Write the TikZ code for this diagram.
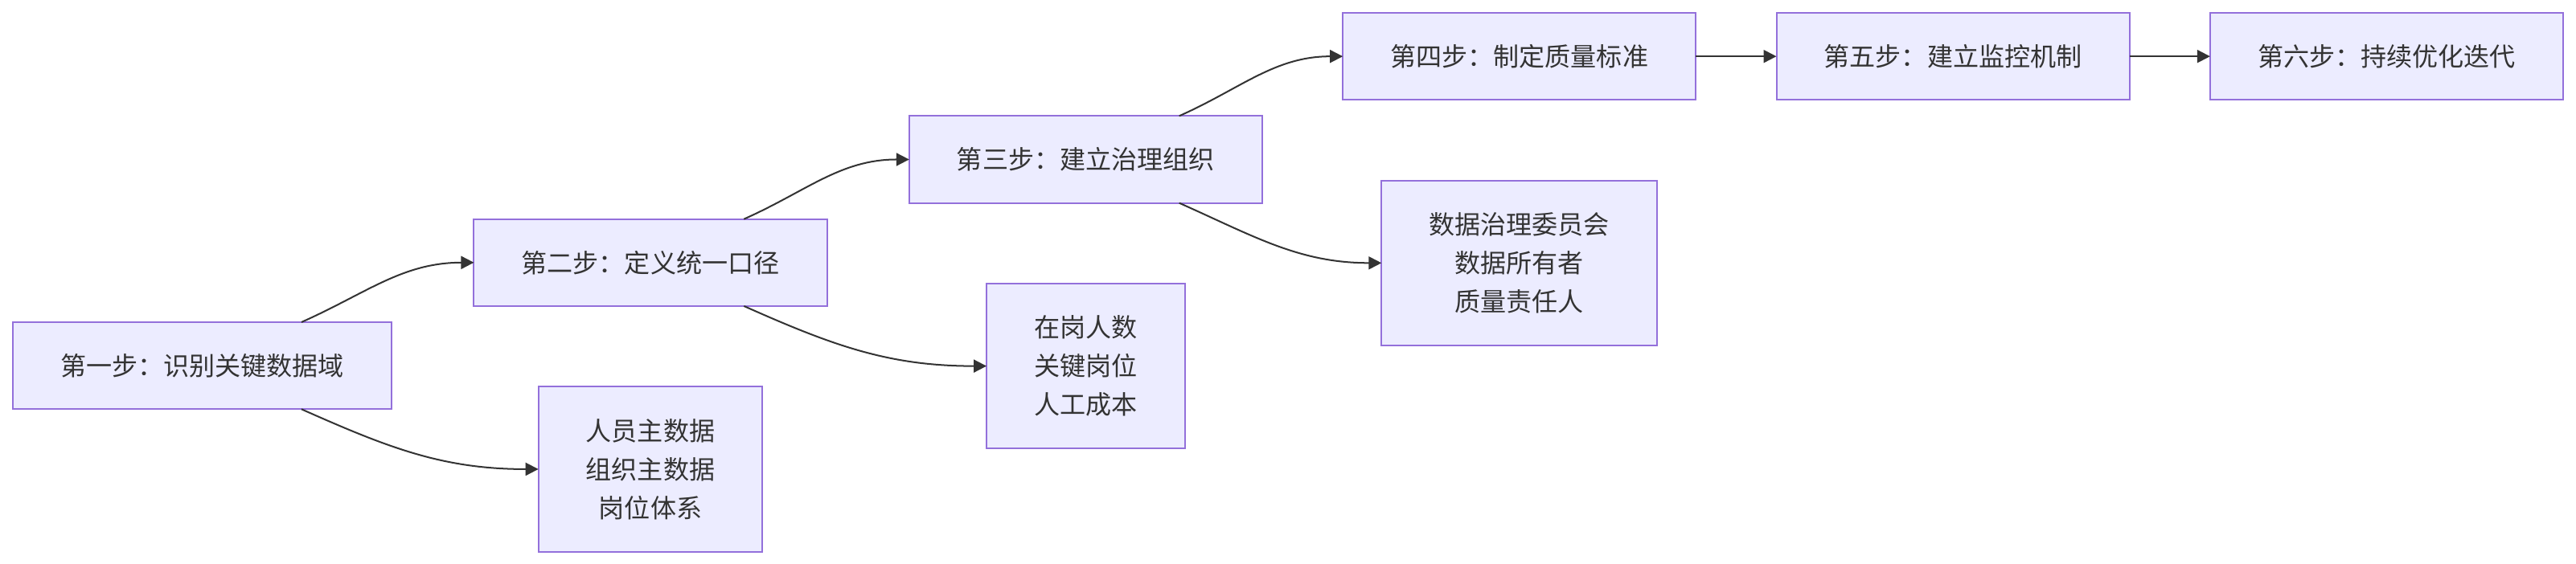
\documentclass[tikz,border=0pt]{standalone}
\usepackage{fontspec}
\newfontfamily\cjk{Noto Sans CJK SC}
\usetikzlibrary{arrows.meta,positioning,calc}
\definecolor{boxfill}{HTML}{ECECFF}
\definecolor{boxline}{HTML}{9370DB}
\definecolor{ink}{HTML}{333333}

\begin{document}
\begin{tikzpicture}[
    node distance=50pt,
    stepbox/.style={rectangle, draw=boxline, fill=boxfill, line width=1pt, outer sep=0pt, minimum height=54pt, inner xsep=29.5pt, text=ink, font=\cjk\fontsize{16}{24}\selectfont},
    infobox/.style={stepbox, minimum height=102.5pt, align=center},
    arrow/.style={-{Triangle[length=8pt, width=8pt]}, line width=1pt, draw=ink},
    up/.style={out=24, in=180},
    down/.style={out=-24, in=180}
]
\node[stepbox] (s1) {第一步：识别关键数据域};
\node[stepbox, above right=10pt and 51pt of s1] (s2) {第二步：定义统一口径};
\node[stepbox, above right=10pt and 51pt of s2] (s3) {第三步：建立治理组织};
\node[stepbox, above right=10pt and 50pt of s3] (s4) {第四步：制定质量标准};
\node[stepbox, right=of s4] (s5) {第五步：建立监控机制};
\node[stepbox, right=of s5] (s6) {第六步：持续优化迭代};

\node[infobox, below=of s2] (master) {人员主数据\\组织主数据\\岗位体系};
\node[infobox, below=of s3] (metric) {在岗人数\\关键岗位\\人工成本};
\node[infobox, below=of s4] (roles) {数据治理委员会\\数据所有者\\质量责任人};

\useasboundingbox ($(s1.west |- s4.north)+(-8pt,8pt)$) rectangle ($(s6.east |- master.south)+(8pt,-7.5pt)$);

\draw[arrow] ([xshift=61.5pt]s1.north) to[up] (s2);
\draw[arrow] ([xshift=61.5pt]s1.south) to[down] (master);
\draw[arrow] ([xshift=58pt]s2.north) to[up] (s3);
\draw[arrow] ([xshift=58pt]s2.south) to[down] (metric);
\draw[arrow] ([xshift=58pt]s3.north) to[up] (s4);
\draw[arrow] ([xshift=58pt]s3.south) to[down] (roles);
\draw[arrow] (s4) -- (s5);
\draw[arrow] (s5) -- (s6);
\end{tikzpicture}
\end{document}
